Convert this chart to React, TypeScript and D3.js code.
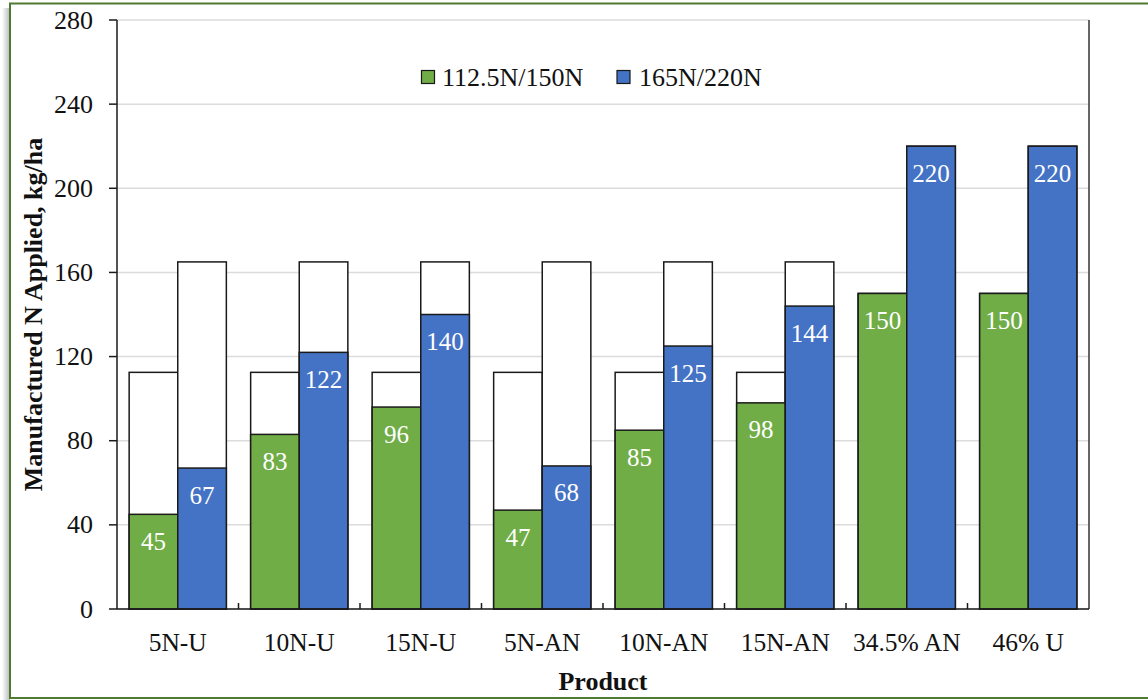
import React from "react";
import * as d3 from "d3";

const categories = ["5N-U", "10N-U", "15N-U", "5N-AN", "10N-AN", "15N-AN", "34.5% AN", "46% U"];
const lowRate = [45, 83, 96, 47, 85, 98, 150, 150];
const highRate = [67, 122, 140, 68, 125, 144, 220, 220];
const lowTarget = [112.5, 112.5, 112.5, 112.5, 112.5, 112.5, 150, 150];
const highTarget = [165, 165, 165, 165, 165, 165, 220, 220];
const yTicks = [0, 40, 80, 120, 160, 200, 240, 280];
const seriesNames = ["112.5N/150N", "165N/220N"];

const W = 1148;
const H = 700;
const M = { left: 117, right: 1089, top: 20, bottom: 609 };
const GREEN = "#70ad47";
const BLUE = "#4472c4";
const FONT = "'Liberation Serif', 'Times New Roman', serif";

export default function App() {
  const x = d3.scaleBand<string>().domain(categories).range([M.left, M.right]).paddingInner(0.2).paddingOuter(0.1);
  const y = d3.scaleLinear().domain([0, 280]).range([M.bottom, M.top]);
  const bw = x.bandwidth() / 2;
  const step = x.step();

  return (
    <div style={{ position: "absolute", left: 0, top: 0, width: W, height: H }}>
      <svg width={W} height={H} style={{ display: "block" }} fontFamily={FONT}>
        <defs>
          <linearGradient id="shadow" x1="0" x2="1" y1="0" y2="0">
            <stop offset="0" stopColor="#ffffff" />
            <stop offset="1" stopColor="#b8b8b8" />
          </linearGradient>
        </defs>
        <rect x={0} y={0} width={W} height={H} fill="#fff" />
        <rect x={2} y={8} width={8} height={H - 8} fill="url(#shadow)" />
        <rect x={10} y={3.5} width={W} height={694.5} fill="#fff" stroke="#4f7a32" strokeWidth={2} />

        {/* gridlines */}
        {yTicks.map((t) => (
          <line key={"g" + t} x1={M.left} x2={M.right} y1={y(t)} y2={y(t)} stroke="#dcdcdc" strokeWidth={1.5} />
        ))}

        {/* target (outline) bars */}
        {categories.map((c, i) => (
          <g key={"t" + c}>
            <rect x={x(c)!} y={y(lowTarget[i])} width={bw} height={y(0) - y(lowTarget[i])} fill="#fff" stroke="#1a1a1a" strokeWidth={1.5} />
            <rect x={x(c)! + bw} y={y(highTarget[i])} width={bw} height={y(0) - y(highTarget[i])} fill="#fff" stroke="#1a1a1a" strokeWidth={1.5} />
          </g>
        ))}

        {/* actual bars */}
        {categories.map((c, i) => (
          <g key={"b" + c}>
            <rect x={x(c)!} y={y(lowRate[i])} width={bw} height={y(0) - y(lowRate[i])} fill={GREEN} stroke="#1a1a1a" strokeWidth={1.5} />
            <rect x={x(c)! + bw} y={y(highRate[i])} width={bw} height={y(0) - y(highRate[i])} fill={BLUE} stroke="#1a1a1a" strokeWidth={1.5} />
            <text x={x(c)! + bw / 2} y={y(lowRate[i]) + 27} fill="#fff" fontSize={25} textAnchor="middle" dominantBaseline="central">
              {lowRate[i]}
            </text>
            <text x={x(c)! + bw * 1.5} y={y(highRate[i]) + 27} fill="#fff" fontSize={25} textAnchor="middle" dominantBaseline="central">
              {highRate[i]}
            </text>
          </g>
        ))}

        {/* axes */}
        <line x1={M.left} x2={M.left} y1={M.top} y2={M.bottom} stroke="#1a1a1a" strokeWidth={1.5} />
        <line x1={M.right} x2={M.right} y1={M.top} y2={M.bottom} stroke="#333" strokeWidth={1.5} />
        <line x1={M.left} x2={M.right} y1={M.bottom} y2={M.bottom} stroke="#1a1a1a" strokeWidth={1.5} />
        {yTicks.map((t) => (
          <g key={"yt" + t}>
            <line x1={M.left - 8} x2={M.left} y1={y(t)} y2={y(t)} stroke="#1a1a1a" strokeWidth={1.5} />
            <text x={M.left - 24} y={y(t)} fontSize={26} textAnchor="end" dominantBaseline="central" fill="#111">
              {t}
            </text>
          </g>
        ))}
        {categories.map((c, i) => (
          <g key={"xt" + c}>
            {i > 0 && (
              <line x1={M.left + step * i} x2={M.left + step * i} y1={M.bottom} y2={M.bottom - 6} stroke="#1a1a1a" strokeWidth={1.5} />
            )}
            <text x={x(c)! + x.bandwidth() / 2} y={642} fontSize={25.5} textAnchor="middle" dominantBaseline="central" fill="#111">
              {c}
            </text>
          </g>
        ))}

        {/* axis titles */}
        <text x={(M.left + M.right) / 2} y={681} fontSize={26} fontWeight="bold" textAnchor="middle" dominantBaseline="central" fill="#111">
          Product
        </text>
        <text
          transform={`translate(33, ${(M.top + M.bottom) / 2}) rotate(-90)`}
          fontSize={26}
          fontWeight="bold"
          textAnchor="middle"
          dominantBaseline="central"
          fill="#111"
        >
          Manufactured N Applied, kg/ha
        </text>

        {/* legend */}
        <rect x={421.5} y={70.5} width={13} height={13} fill={GREEN} stroke="#1a1a1a" strokeWidth={1.2} />
        <text x={442} y={77} fontSize={26} dominantBaseline="central" fill="#111">
          {seriesNames[0]}
        </text>
        <rect x={617} y={70.5} width={13} height={13} fill={BLUE} stroke="#1a1a1a" strokeWidth={1.2} />
        <text x={639} y={77} fontSize={26} dominantBaseline="central" fill="#111">
          {seriesNames[1]}
        </text>
      </svg>
    </div>
  );
}
